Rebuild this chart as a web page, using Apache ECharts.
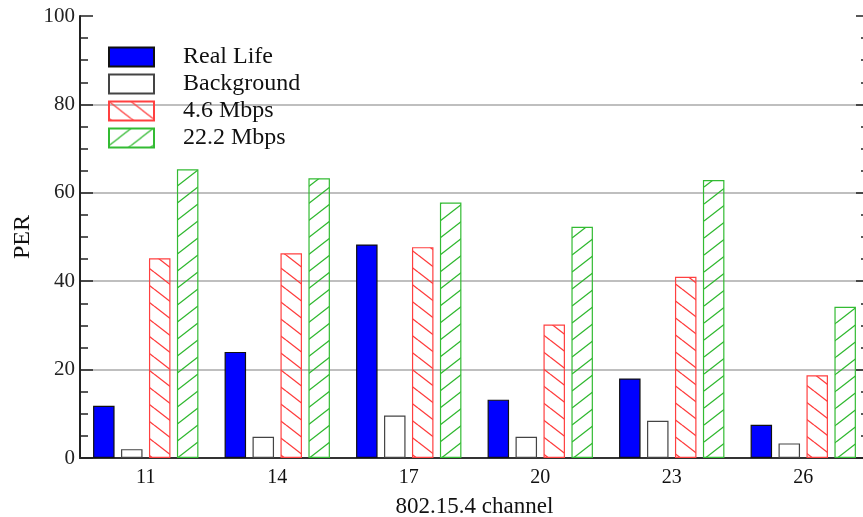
<!DOCTYPE html>
<html>
<head>
<meta charset="utf-8">
<script src="https://cdn.jsdelivr.net/npm/echarts@6/dist/echarts.min.js"></script>
<style>
html, body { margin: 0; padding: 0; background: #fff; }
#chart { width: 863px; height: 517px; }
</style>
</head>
<body>
<div id="chart"></div>
<script>
var channels = ['11', '14', '17', '20', '23', '26'];
var realLife = [11.8, 24.0, 48.3, 13.2, 18.0, 7.5];
var background = [2.0, 4.8, 9.6, 4.8, 8.4, 3.3];
var rate46 = [45.2, 46.3, 47.7, 30.2, 41.0, 18.7];
var rate222 = [65.3, 63.3, 57.8, 52.3, 62.9, 34.2];
var seriesNames = ['Real Life', 'Background', '4.6 Mbps', '22.2 Mbps'];

// diagonal hatch tile, dir 1 = "\" , dir -1 = "/"
function hatch(color, dir) {
	var w = 22, h = 17;
	var c = document.createElement('canvas');
	c.width = w; c.height = h;
	var ctx = c.getContext('2d');
	ctx.strokeStyle = color;
	ctx.lineWidth = 1.3;
	for (var k = -1; k <= 1; k++) {
		ctx.beginPath();
		if (dir > 0) {
			ctx.moveTo(0, k * h);
			ctx.lineTo(w, k * h + h);
		} else {
			ctx.moveTo(0, k * h + h);
			ctx.lineTo(w, k * h);
		}
		ctx.stroke();
	}
	return { image: c, repeat: 'repeat' };
}

var font = 'Liberation Serif';

var option = {
	backgroundColor: '#ffffff',
	animation: false,
	grid: { left: 80, top: 16, width: 789, height: 442, outerBoundsMode: 'none' },
	legend: {
		orient: 'vertical',
		left: 103,
		top: 40,
		icon: 'rect',
		itemWidth: 45,
		itemHeight: 19,
		itemGap: 3,
		data: seriesNames,
		textStyle: { fontFamily: font, fontSize: 24, color: '#111', padding: [0, 0, 0, 24] }
	},
	xAxis: [{
		type: 'category',
		data: channels,
		position: 'bottom',
		name: '802.15.4 channel',
		nameLocation: 'middle',
		nameGap: 37,
		nameMoveOverlap: false,
		nameTextStyle: { fontFamily: font, fontSize: 23, color: '#111' },
		axisLine: { lineStyle: { color: '#222', width: 2 } },
		axisTick: { show: false },
		axisLabel: { fontFamily: font, fontSize: 20, color: '#111', margin: 10 }
	}, {
		type: 'category',
		data: channels,
		position: 'top',
		axisLine: { lineStyle: { color: '#333', width: 2 } },
		axisTick: { show: false },
		axisLabel: { show: false }
	}],
	yAxis: [{
		type: 'value',
		min: 0,
		max: 100,
		interval: 20,
		name: 'PER',
		nameLocation: 'middle',
		nameGap: 45,
		nameMoveOverlap: false,
		nameTextStyle: { fontFamily: font, fontSize: 24, color: '#111' },
		axisLine: { show: true, lineStyle: { color: '#222', width: 2 } },
		axisTick: { show: true, inside: true, length: 13, lineStyle: { color: '#222', width: 1.5 } },
		minorTick: { show: true, splitNumber: 4, length: 8, lineStyle: { color: '#222', width: 1.5 } },
		axisLabel: { fontFamily: font, fontSize: 21, color: '#222', margin: 5 },
		splitLine: { show: true, showMinLine: false, showMaxLine: false, lineStyle: { color: '#aaa', width: 1.5 } }
	}, {
		type: 'value',
		position: 'right',
		min: 0,
		max: 100,
		interval: 20,
		axisLine: { show: true, lineStyle: { color: '#222', width: 2 } },
		axisTick: { show: true, inside: true, length: 13, lineStyle: { color: '#222', width: 1.5 } },
		minorTick: { show: true, splitNumber: 4, length: 8, lineStyle: { color: '#222', width: 1.5 } },
		axisLabel: { show: false },
		splitLine: { show: false }
	}],
	series: [{
		name: seriesNames[0],
		type: 'bar',
		data: realLife,
		barWidth: 21.5,
		barGap: '30%',
		itemStyle: { color: '#0000ff', borderColor: '#111', borderWidth: 1.2 }
	}, {
		name: seriesNames[1],
		type: 'bar',
		data: background,
		barWidth: 21.5,
		barGap: '30%',
		itemStyle: { color: '#ffffff', borderColor: '#444', borderWidth: 1.2 }
	}, {
		name: seriesNames[2],
		type: 'bar',
		data: rate46,
		barWidth: 21.5,
		barGap: '30%',
		itemStyle: { color: hatch('#ff3b3b', 1), borderColor: '#ff4040', borderWidth: 1.2 }
	}, {
		name: seriesNames[3],
		type: 'bar',
		data: rate222,
		barWidth: 21.5,
		barGap: '30%',
		itemStyle: { color: hatch('#2eb82e', -1), borderColor: '#33bb33', borderWidth: 1.2 }
	}]
};

var myChart = echarts.init(document.getElementById('chart'));
myChart.setOption(option, true);
</script>
</body>
</html>
